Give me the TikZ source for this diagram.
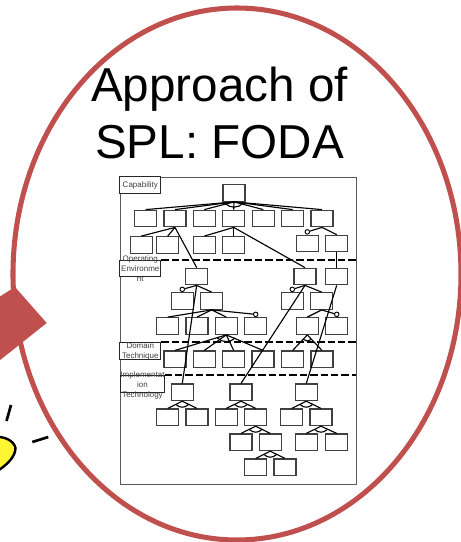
\documentclass[tikz,border=0pt]{standalone}
\usepackage{fontspec}
\setmainfont{Liberation Sans}
\usetikzlibrary{positioning}
\definecolor{ringred}{HTML}{C0504D}
\tikzset{
  feat/.style={draw=black!75, line width=0.95pt, fill=white, minimum width=16.5pt, minimum height=12.4pt, inner sep=0pt},
  link/.style={black, line width=0.85pt},
  optmark/.style={circle, draw=black, line width=0.7pt, fill=white, minimum size=3.4pt, inner sep=0pt},
  tagbox/.style={draw=black!85, line width=0.75pt, fill=white, minimum height=12.4pt, inner sep=0pt},
  tagtext/.style={font=\fontsize{6}{7.4}\selectfont, align=center, text=black!75, inner sep=0pt},
  split/.style={black, line width=1.5pt, dash pattern=on 5.6pt off 2.2pt},
}
\newcommand{\altarc}[3]{\draw[link] (#1.south) ++(-#2,#3) to[bend right=45] ++(2*#2,0);}
\begin{document}
\begin{tikzpicture}[x=0.75pt, y=-0.75pt]
\useasboundingbox (0, 0) rectangle (460, 542);
\fill[ringred] (15, 287) -- (46.7, 323) -- (-20, 376) -- (-20, 309) -- cycle;
\draw[ringred, line width=3.8pt] (237, 274) ellipse (224 and 266);
%Bulb
\filldraw[fill=yellow!80!white, line width=1.8pt, line join=round] (-6, 437) .. controls (5, 436) and (14, 441) .. (15.5, 448) .. controls (15.5, 456) and (8, 465) .. (-6, 473) -- cycle;
\draw[line width=2pt] (11, 405) -- (6.5, 421);
\draw[line width=2pt] (32.3, 442) -- (48.3, 437);
%Title
\node[font=\fontsize{35.7}{42.8}\selectfont, align=center, inner sep=0pt] (title) at (219.5, 113) {Approach of\\SPL: FODA};
\node[draw=black!65, line width=0.7pt, minimum width=177pt, minimum height=230.2pt, inner sep=0pt] (frame) at (238, 330.5) {};
%Depth 0
\node[feat] (top) at (234, 193) {};
%Depth 1
\node[feat] (a1) at (145.7, 218.5) {};
\node[feat] (a2) at (175, 218.5) {};
\node[feat] (a3) at (204.3, 218.5) {};
\node[feat] (a4) at (233.7, 218.5) {};
\node[feat] (a5) at (263.3, 218.5) {};
\node[feat] (a6) at (292.7, 218.5) {};
\node[feat] (a7) at (322, 218.5) {};
%Depth 2
\node[feat] (b1) at (141.3, 245) {};
\node[feat] (b2) at (167.7, 245) {};
\node[feat] (b3) at (204.3, 245) {};
\node[feat] (b4) at (233.7, 245) {};
\node[feat] (b5) at (307.3, 243.5) {};
\node[feat] (b6) at (336.7, 243.5) {};
%Operating environment
\node[feat] (c1) at (196.7, 276.5) {};
\node[feat] (c2) at (305, 276.5) {};
\node[feat] (c3) at (336.7, 276.5) {};
\node[feat] (d1) at (182.3, 301) {};
\node[feat] (d2) at (211.7, 301) {};
\node[feat] (d3) at (292.3, 301) {};
\node[feat] (d4) at (321.7, 301) {};
\node[feat] (e1) at (167.7, 326) {};
\node[feat] (e2) at (197, 326) {};
\node[feat] (e3) at (226.3, 326) {};
\node[feat] (e4) at (255.7, 326) {};
\node[feat] (e5) at (307.3, 326) {};
\node[feat] (e6) at (336.7, 326) {};
%Domain technique
\node[feat] (f1) at (175, 359.3) {};
\node[feat] (f2) at (204.3, 359.3) {};
\node[feat] (f3) at (233.7, 359.3) {};
\node[feat] (f4) at (263, 359.3) {};
\node[feat] (f5) at (292.7, 359.3) {};
\node[feat] (f6) at (322, 359.3) {};
%Implementation technology
\node[feat] (g1) at (182.3, 392.3) {};
\node[feat] (g2) at (241, 392.3) {};
\node[feat] (g3) at (306.3, 392.3) {};
\node[feat] (h1) at (167.7, 417.3) {};
\node[feat] (h2) at (197, 417.3) {};
\node[feat] (h3) at (226.3, 417.3) {};
\node[feat] (h4) at (255.7, 417.3) {};
\node[feat] (h5) at (291.7, 417.3) {};
\node[feat] (h6) at (321, 417.3) {};
\node[feat] (i1) at (241, 442.3) {};
\node[feat] (i2) at (270.3, 442.3) {};
\node[feat] (i3) at (306.3, 442.3) {};
\node[feat] (i4) at (336.7, 442.3) {};
\node[feat] (j1) at (255.7, 467.3) {};
\node[feat] (j2) at (285, 467.3) {};
%Optional marks
\node[optmark, above=0pt of b5] (ob5) {};
\node[optmark, above=0pt of d1] (od1) {};
\node[optmark, above=0pt of d3] (od3) {};
\node[optmark, above=0pt of e4] (oe4) {};
\node[optmark, above=0pt of e6] (oe6) {};
%Links
\draw[link] (top.south) -- (a1.north);
\draw[link] (top.south) -- (a2.north);
\draw[link] (top.south) -- (a3.north);
\draw[link] (top.south) -- (a4.north);
\draw[link] (top.south) -- (a5.north);
\draw[link] (top.south) -- (a6.north);
\draw[link] (top.south) -- (a7.north);
\draw[link] (a2.south) -- (b1.north);
\draw[link] (a2.south) -- (b2.north);
\draw[link] (a2.south) -- (c1.north);
\draw[link] (a4.south) -- (b3.north);
\draw[link] (a4.south) -- (b4.north);
\draw[link] (a4.south) -- (c2.north);
\draw[link] (a7.south) -- (ob5);
\draw[link] (a7.south) -- (b6.north);
\draw[link] (b6.south) -- (c3.north);
\draw[link] (c1.south) -- (od1);
\draw[link] (c1.south) -- (d2.north);
\draw[link] (c2.south) -- (od3);
\draw[link] (c2.south) -- (d4.north);
\draw[link] (d2.south) -- (e1.north);
\draw[link] (d2.south) -- (e2.north);
\draw[link] (d2.south) -- (e3.north);
\draw[link] (d2.south) -- (oe4);
\draw[link] (d4.south) -- (e5.north);
\draw[link] (d4.south) -- (oe6);
\draw[link] (e3.south) -- (f1.north);
\draw[link] (e3.south) -- (f2.north);
\draw[link] (e3.south) -- (f3.north);
\draw[link] (e3.south) -- (f4.north);
\draw[link] (e5.south) -- (f5.north);
\draw[link] (e5.south) -- (f6.north);
\draw[link] (c1.south) -- (g1.north);
\draw[link] (c2.south) -- (g2.north);
\draw[link] (c3.south) -- (g3.north);
\draw[link] (g1.south) -- (h1.north);
\draw[link] (g1.south) -- (h2.north);
\draw[link] (g2.south) -- (h3.north);
\draw[link] (g2.south) -- (h4.north);
\draw[link] (g3.south) -- (h5.north);
\draw[link] (g3.south) -- (h6.north);
\draw[link] (h4.south) -- (i1.north);
\draw[link] (h4.south) -- (i2.north);
\draw[link] (h6.south) -- (i3.north);
\draw[link] (h6.south) -- (i4.north);
\draw[link] (i2.south) -- (j1.north);
\draw[link] (i2.south) -- (j2.north);
%Arcs
\altarc{top}{9}{1.5}
\altarc{e3}{9}{3}
\altarc{e5}{4}{4.5}
\altarc{g1}{6}{3.5}
\altarc{g2}{6}{3.5}
\altarc{g3}{6}{3.5}
\altarc{h4}{6}{3.5}
\altarc{h6}{6}{3.5}
\altarc{i2}{6}{3.5}
%Tags
\node[tagbox, minimum width=30.5pt] (captag) at (140.3, 185.2) {};
\node[tagbox, minimum width=30.5pt] (optag) at (140.3, 268.3) {};
\node[tagbox, minimum width=30.5pt] (domtag) at (140.3, 351) {};
\node[tagbox, minimum width=33pt] (imptag) at (142, 384) {};
\node[tagtext] (captext) at (captag.center) {Capability};
\node[tagtext] (optext) at (optag.center) {Operating\\Environme\\nt};
\node[tagtext] (domtext) at (domtag.center) {Domain\\Technique};
\node[tagtext] (imptext) at (142.5, 385.5) {Implementat\\ion\\Technology};
\draw[split] (optag.north east) -- (optag.north east -| frame.east);
\draw[split] (domtag.north east) -- (domtag.north east -| frame.east);
\draw[split] (imptag.north east) -- (imptag.north east -| frame.east);
\end{tikzpicture}
\end{document}
